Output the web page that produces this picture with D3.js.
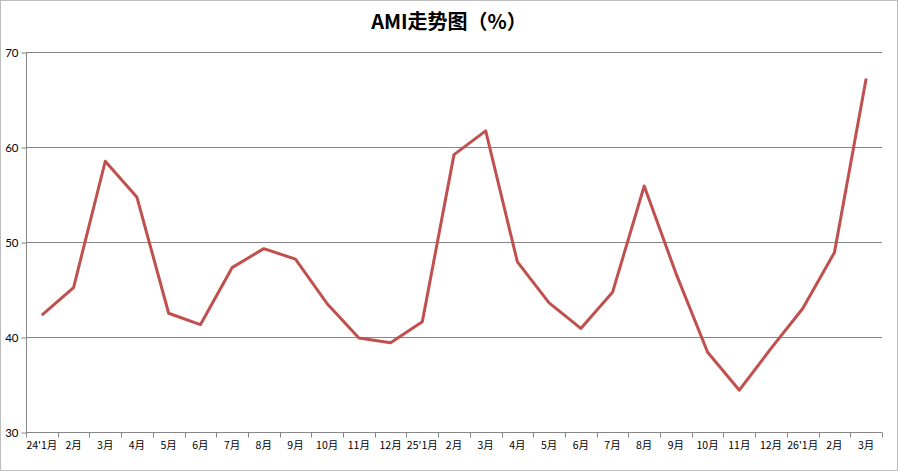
<!DOCTYPE html>
<html><head><meta charset="utf-8">
<script src="https://cdn.jsdelivr.net/npm/d3@7"></script>
<style>body{margin:0;background:#fff;}svg{display:block;}</style>
</head><body>
<svg id="c" width="898" height="471"></svg>
<script>
const categories = ["24'1月","2月","3月","4月","5月","6月","7月","8月","9月","10月","11月","12月","25'1月","2月","3月","4月","5月","6月","7月","8月","9月","10月","11月","12月","26'1月","2月","3月"];
const amiValues = [42.3,45.2,58.5,54.7,42.5,41.3,47.3,49.3,48.2,43.5,39.9,39.4,41.6,59.2,61.7,47.9,43.6,40.9,44.7,55.9,46.7,38.4,34.4,38.8,43.0,48.9,67.2];
const yTicks = [30,40,50,60,70];
const title = "AMI走势图（%）";

const svg = d3.select("#c");
const W = 898, H = 471;
const m = {l:26, r:16, t:52, b:39};
svg.append("rect").attr("x",0.5).attr("y",0.5).attr("width",W-1).attr("height",H-1).attr("fill","#fff").attr("stroke","#bdbdbd");

const idx = categories.map((d,i)=>i);
const x = d3.scaleBand().domain(idx).range([m.l, W-m.r]).paddingInner(0).paddingOuter(0);
const y = d3.scaleLinear().domain([30,70]).range([H-m.b, m.t]);

svg.append("g").selectAll("line").data(yTicks.slice(1)).join("line")
  .attr("x1",m.l).attr("x2",W-m.r).attr("y1",d=>Math.round(y(d))+0.5).attr("y2",d=>Math.round(y(d))+0.5)
  .attr("stroke","#868686").attr("stroke-width",1);

const ya = svg.append("g").attr("transform",`translate(${m.l+0.5},0.5)`)
  .call(d3.axisLeft(y).tickValues(yTicks).tickSize(5).tickPadding(3).tickFormat(d3.format("d")));
ya.select(".domain").attr("stroke","#868686").attr("d",`M0,${Math.round(y(70))}V${Math.round(y(30))}`);
ya.selectAll(".tick line").attr("stroke","#868686");
ya.selectAll("text").attr("font-family","Lato, 'DejaVu Sans', sans-serif").attr("font-size",11.5).attr("fill","#000").attr("dy","0.35em");

const xg = svg.append("g").attr("transform",`translate(0,${Math.round(y(30))+0.5})`);
xg.append("line").attr("x1",m.l).attr("x2",W-m.r).attr("stroke","#868686");
const bounds = idx.map(i=>x(i)).concat([x(idx.length-1)+x.bandwidth()]);
xg.selectAll("line.t").data(bounds).join("line").attr("class","t")
  .attr("x1",d=>Math.round(d)+0.5).attr("x2",d=>Math.round(d)+0.5).attr("y1",0).attr("y2",5).attr("stroke","#868686");
xg.selectAll("text").data(categories).join("text")
  .attr("x",(d,i)=>x(i)+x.bandwidth()/2).attr("y",16)
  .attr("text-anchor","middle").attr("font-family","'Noto Sans CJK SC', sans-serif").attr("font-size",10.5).attr("fill","#000")
  .text(d=>d);

const line = d3.line().x((d,i)=>x(i)+x.bandwidth()/2).y(d=>y(d));
svg.append("path").datum(amiValues).attr("d",line).attr("fill","none")
  .attr("stroke","#C0504D").attr("stroke-width",3).attr("stroke-linejoin","round");

svg.append("text").attr("x",449).attr("y",29).attr("text-anchor","middle")
  .attr("font-family","'Noto Sans CJK SC', sans-serif").attr("font-weight","bold").attr("font-size",20).attr("fill","#000")
  .text(title);
</script>
</body></html>
